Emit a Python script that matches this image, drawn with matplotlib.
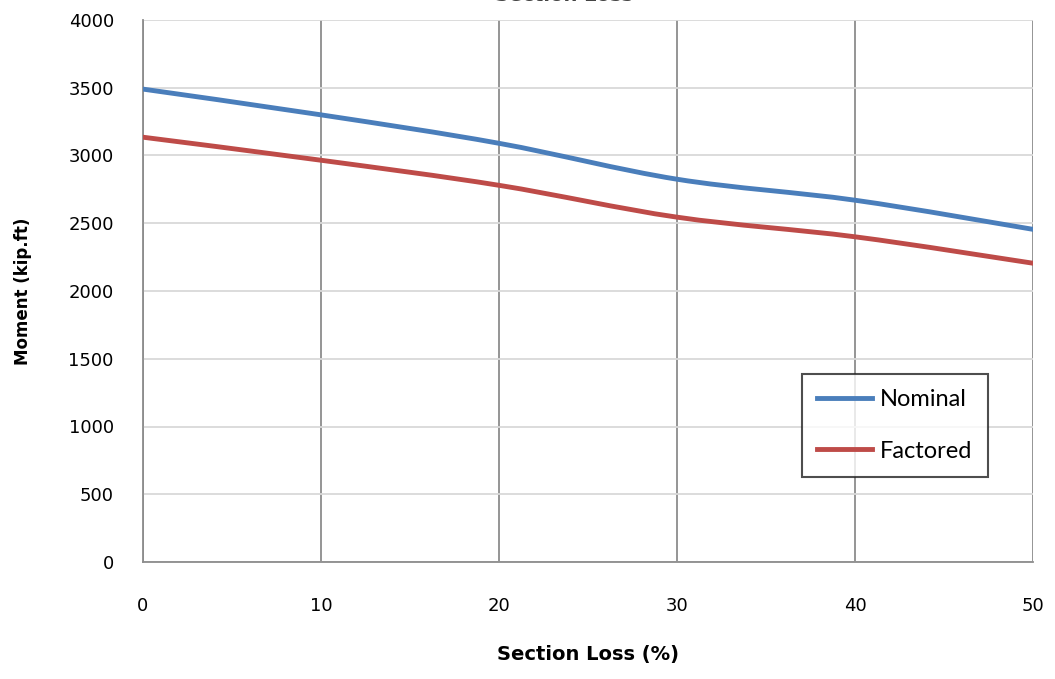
import matplotlib.pyplot as plt
from matplotlib.path import Path
from matplotlib.patches import PathPatch

section_loss = [0, 10, 20, 30, 40, 50]
nominal = [3490, 3300, 3090, 2825, 2670, 2455]
factored = [3135, 2965, 2780, 2545, 2400, 2205]


def smooth_path(xs, ys):
    # Excel-style smoothed line: cubic Bezier through the points
    pts = list(zip(xs, ys))
    verts = [pts[0]]
    codes = [Path.MOVETO]
    n = len(pts)
    for i in range(n - 1):
        p0 = pts[i - 1] if i > 0 else pts[i]
        p1 = pts[i]
        p2 = pts[i + 1]
        p3 = pts[i + 2] if i + 2 < n else pts[i + 1]
        c1 = (p1[0] + (p2[0] - p0[0]) / 6, p1[1] + (p2[1] - p0[1]) / 6)
        c2 = (p2[0] - (p3[0] - p1[0]) / 6, p2[1] - (p3[1] - p1[1]) / 6)
        verts += [c1, c2, p2]
        codes += [Path.CURVE4] * 3
    return Path(verts, codes)


fig = plt.figure(figsize=(10.55, 6.79), dpi=100)
ax = fig.add_axes([143 / 1055, 1 - 562 / 679, 890 / 1055, 542 / 679])

for ys, color, name in [(nominal, "#4a7ebb", "Nominal"), (factored, "#be4b48", "Factored")]:
    ax.add_patch(PathPatch(smooth_path(section_loss, ys), fill=False,
                           edgecolor=color, lw=3.5, capstyle="round", zorder=3))
    ax.plot([], [], color=color, lw=3.5, label=name)

ax.set_xlim(0, 50)
ax.set_ylim(0, 4000)
ax.set_xticks(range(0, 51, 10))
ax.set_yticks(range(0, 4001, 500))
ax.xaxis.grid(True, color="#8c8c8c", lw=1.3)
ax.yaxis.grid(True, color="#d9d9d9", lw=1.3)
ax.set_axisbelow(True)
ax.tick_params(length=0, labelsize=13)
ax.tick_params(axis="x", pad=25)
ax.tick_params(axis="y", pad=21)
for s in ["top", "right"]:
    ax.spines[s].set_visible(False)
for s in ["left", "bottom"]:
    ax.spines[s].set_color("#8c8c8c")
    ax.spines[s].set_linewidth(1.3)

ax.set_xlabel("Section Loss (%)", fontsize=14, fontweight="bold", labelpad=22)
ax.set_ylabel("Moment (kip.ft)", fontsize=12, fontweight="bold", labelpad=26)
fig.text(0.535, 1.006, "Section Loss", ha="center", va="center",
         fontsize=14, fontweight="bold", color="#444444")

leg = ax.legend(loc="lower right", bbox_to_anchor=(0.949, 0.157),
                borderaxespad=0, frameon=True, fancybox=False,
                handlelength=2.3, borderpad=0.65, labelspacing=1.3,
                handletextpad=0.35, prop={"family": "Lato", "size": 17})
leg.get_frame().set_edgecolor("#222222")
leg.get_frame().set_linewidth(1.5)

fig.savefig("out.png", dpi=100, facecolor="white")
